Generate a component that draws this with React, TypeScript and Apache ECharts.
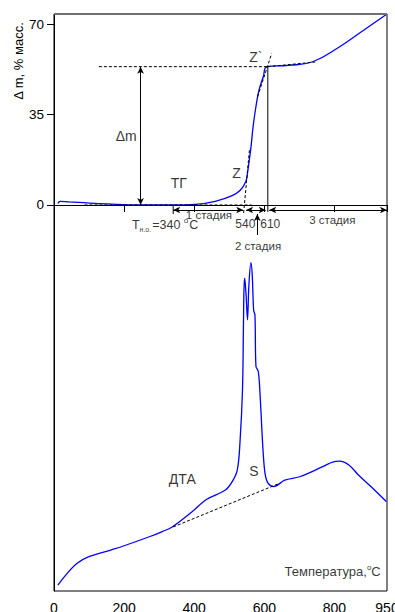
import React, { useEffect, useRef } from "react";
import * as echarts from "echarts";

// ---- axes ----
const temperatureTicks = [0, 200, 400, 600, 800, 950];
const massTicks = [0, 35, 70];

// ---- TG curve (mass loss, % масс.) ----
const tgTemperature = [11, 18, 43, 70, 152, 249, 346, 402, 460, 508, 532, 547, 552, 562, 568, 576, 585, 597, 608, 669, 738, 815, 877, 950];
const tgMassLoss = [0.6, 1.4, 1.2, 1.0, 0.4, 0.0, 0.0, 0.2, 1.4, 3.6, 5.8, 9.0, 12.3, 22.5, 30.3, 38.0, 44.5, 49.6, 53.5, 54.0, 55.4, 61.2, 67.0, 73.9];

// ---- DTA curve (arbitrary units) ----
const dtaTemperature = [11, 34, 66, 98, 162, 198, 272, 309, 337, 393, 436, 489, 508, 523, 531, 537.7, 540.3, 542, 544, 548, 552, 556, 561.7, 565.5, 569.5, 573.3, 576.2, 583, 588.7, 595.7, 602, 610.6, 626.6, 658.5, 701, 765, 797, 815, 842, 868.5, 904, 948];
const dtaSignal = [1.0, 2.8, 4.8, 5.9, 7.1, 7.8, 9.4, 10.3, 11.1, 13.7, 15.9, 17.5, 18.9, 21.0, 26.2, 34.8, 45.2, 52.2, 54.2, 51.3, 47.0, 53.0, 56.9, 54.8, 48.7, 47.8, 38.9, 38.0, 33.1, 25.0, 20.4, 18.7, 18.1, 19.2, 19.8, 21.5, 22.4, 22.5, 21.8, 20.1, 18.1, 15.5];

// ---- construction lines on TG (temperature, mass) ----
const levelLineT = [128, 610];
const levelLineM = [53.5, 53.5];
const plateauTangentT = [610, 745];
const plateauTangentM = [53.5, 55.3];
const zeroLineT = [87, 564];
const zeroLineM = [0, 0];
const zTangentT = [541, 558];
const zTangentM = [-3.1, 22];
const zPrimeTangentT = [581, 621];
const zPrimeTangentM = [41.9, 58.6];
const line610T = [610, 610];
const line610M = [53.5, -2.7];
const onsetTickT = [340, 340];
const onsetTickM = [-0.4, -3.5];

// ---- DTA baseline (temperature, signal) ----
const dtaBaselineT = [340, 637];
const dtaBaselineS = [11.1, 18.5];

// ---- arrows ----
const arrowDeltaM = [247, 53.5, 247, 0];
const stageArrowLevel = -1.93;
const stage1 = [340, 540];
const stage2 = [548, 604];
const stage3 = [614, 950];
const stage2Pointer = [580, -11.6, 580, -3.5];

// ---- texts ----
const tgTexts = [
  { t: 206, m: 26.7, text: "Δm", size: 14 },
  { t: 356, m: 8.5, text: "ТГ", size: 14 },
  { t: 521, m: 12.4, text: "Z", size: 14 },
  { t: 576, m: 57.1, text: "Z`", size: 14 },
  { t: 442, m: -3.9, text: "1 стадия", size: 11.5 },
  { t: 546, m: -7.3, text: "540", size: 12 },
  { t: 617, m: -7.3, text: "610", size: 12 },
  { t: 582, m: -16, text: "2 стадия", size: 11.5 },
  { t: 794, m: -5.8, text: "3 стадия", size: 11.5 },
];
const onsetText = { t: 317, m: -7.7 };
const dtaTexts = [
  { t: 366, s: 19.4, text: "ДТА", size: 14 },
  { t: 570, s: 20.8, text: "S", size: 14 },
];
const axisTitleText = { t: 795, s: 3.3 };

const FONT = "'Liberation Sans', Arial, sans-serif";
const BLUE = "#0000ff";

function zip(a: number[], b: number[]) {
  return a.map((v, i) => [v, b[i]]);
}

function straight(name: string, t: number[], m: number[], dashed: boolean, yAxisIndex = 0) {
  return {
    name,
    type: "line",
    yAxisIndex,
    data: zip(t, m),
    symbol: "none",
    silent: true,
    lineStyle: { color: "#000", width: 1, type: dashed ? [3, 2] : "solid" },
    z: 3,
  };
}

export default function App() {
  const ref = useRef<HTMLDivElement>(null);

  useEffect(() => {
    if (!ref.current) return;
    const chart = echarts.init(ref.current, undefined, { renderer: "svg" });

    const arrowPair = (t1: number, m1: number, t2: number, m2: number, startArrow: boolean) => [
      { coord: [t1, m1], symbol: startArrow ? "arrow" : "none" },
      { coord: [t2, m2], symbol: "arrow" },
    ];

    const option: any = {
      animation: false,
      backgroundColor: "#fff",
      textStyle: { fontFamily: FONT },
      grid: {
        left: 54,
        top: 14,
        width: 333,
        height: 577,
        show: true,
        borderColor: "#000",
        borderWidth: 1,
        containLabel: false,
        outerBoundsMode: "none",
      },
      xAxis: {
        type: "value",
        min: 0,
        max: 950,
        axisLine: { show: true, lineStyle: { color: "#000", width: 1 } },
        axisTick: { show: true, length: 7, customValues: temperatureTicks, lineStyle: { color: "#000" } },
        axisLabel: { customValues: temperatureTicks, fontSize: 14, color: "#000", margin: 10, fontFamily: FONT },
        splitLine: { show: false },
      },
      yAxis: [
        {
          type: "value",
          min: -149.3,
          max: 73.87,
          position: "left",
          axisLine: { show: true, lineStyle: { color: "#000", width: 1 } },
          axisTick: { show: true, length: 7, customValues: massTicks, lineStyle: { color: "#000" } },
          axisLabel: { customValues: massTicks, fontSize: 13.5, color: "#000", margin: 10, fontFamily: FONT },
          splitLine: { show: false },
        },
        { type: "value", min: 0, max: 100, show: false },
      ],
      graphic: [
        {
          type: "line",
          shape: { x1: 54, y1: 14, x2: 387, y2: 14 },
          style: { stroke: "#707070", lineWidth: 2.2 },
          z: 10,
        },
        {
          type: "text",
          x: 18,
          y: 61,
          rotation: Math.PI / 2,
          style: { text: "Δ m, % масс.", fill: "#000", font: `13px ${FONT}`, align: "center", verticalAlign: "middle" },
        },
      ],
      series: [
        {
          name: "ТГ",
          type: "line",
          data: zip(tgTemperature, tgMassLoss),
          symbol: "none",
          smooth: 0.45,
          clip: false,
          silent: true,
          lineStyle: { color: BLUE, width: 1.3 },
          z: 2,
        },
        {
          name: "ДТА",
          type: "line",
          yAxisIndex: 1,
          data: zip(dtaTemperature, dtaSignal),
          symbol: "none",
          smooth: 0.35,
          silent: true,
          lineStyle: { color: BLUE, width: 1.3 },
          z: 2,
        },
        straight("level", levelLineT, levelLineM, true),
        straight("plateau", plateauTangentT, plateauTangentM, true),
        straight("zero", zeroLineT, zeroLineM, true),
        straight("zTangent", zTangentT, zTangentM, true),
        straight("zPrimeTangent", zPrimeTangentT, zPrimeTangentM, true),
        straight("line610", line610T, line610M, false),
        straight("onsetTick", onsetTickT, onsetTickM, false),
        straight("dtaBaseline", dtaBaselineT, dtaBaselineS, true, 1),
        {
          name: "arrows",
          type: "line",
          data: [],
          silent: true,
          markLine: {
            silent: true,
            symbolSize: [5, 7],
            label: { show: false },
            emphasis: { disabled: true },
            lineStyle: { color: "#000", width: 1, type: "solid" },
            data: [
              arrowPair(arrowDeltaM[0], arrowDeltaM[1], arrowDeltaM[2], arrowDeltaM[3], true),
              arrowPair(stage1[0], stageArrowLevel, stage1[1], stageArrowLevel, true),
              arrowPair(stage2[0], stageArrowLevel, stage2[1], stageArrowLevel, true),
              arrowPair(stage3[0], stageArrowLevel, stage3[1], stageArrowLevel, true),
              arrowPair(stage2Pointer[0], stage2Pointer[1], stage2Pointer[2], stage2Pointer[3], false),
            ],
          },
        },
        {
          name: "tgTexts",
          type: "scatter",
          symbolSize: 0,
          silent: true,
          data: [
            ...tgTexts.map((d) => ({
              value: [d.t, d.m],
              label: { show: true, position: "inside", formatter: d.text, fontSize: d.size, color: "#000", fontFamily: FONT },
            })),
            {
              value: [onsetText.t, onsetText.m],
              label: {
                show: true,
                position: "inside",
                formatter: "{a|T}{s|н.о.}{a|=340 }{p|o}{a|C}",
                color: "#000",
                rich: {
                  a: { fontSize: 12.5, fontFamily: FONT, color: "#000", lineHeight: 16, verticalAlign: "middle" },
                  s: { fontSize: 7, fontFamily: FONT, color: "#000", verticalAlign: "bottom", lineHeight: 16, padding: [0, 1, 0, 0] },
                  p: { fontSize: 8, fontFamily: FONT, color: "#000", verticalAlign: "top", lineHeight: 16, padding: [0, 1, 0, 0] },
                },
              },
            },
          ],
        },
        {
          name: "dtaTexts",
          type: "scatter",
          yAxisIndex: 1,
          symbolSize: 0,
          silent: true,
          data: [
            ...dtaTexts.map((d) => ({
              value: [d.t, d.s],
              label: { show: true, position: "inside", formatter: d.text, fontSize: d.size, color: "#000", fontFamily: FONT },
            })),
            {
              value: [axisTitleText.t, axisTitleText.s],
              label: {
                show: true,
                position: "inside",
                formatter: "{a|Температура,}{p|o}{a|С}",
                color: "#000",
                rich: {
                  a: { fontSize: 13, fontFamily: FONT, color: "#000", lineHeight: 16, verticalAlign: "middle" },
                  p: { fontSize: 8, fontFamily: FONT, color: "#000", verticalAlign: "top", lineHeight: 16 },
                },
              },
            },
          ],
        },
      ],
    };

    chart.setOption(option);
    return () => chart.dispose();
  }, []);

  return (
    <div
      ref={ref}
      style={{ position: "fixed", left: 0, top: 0, width: 395, height: 612, background: "#fff" }}
    />
  );
}
